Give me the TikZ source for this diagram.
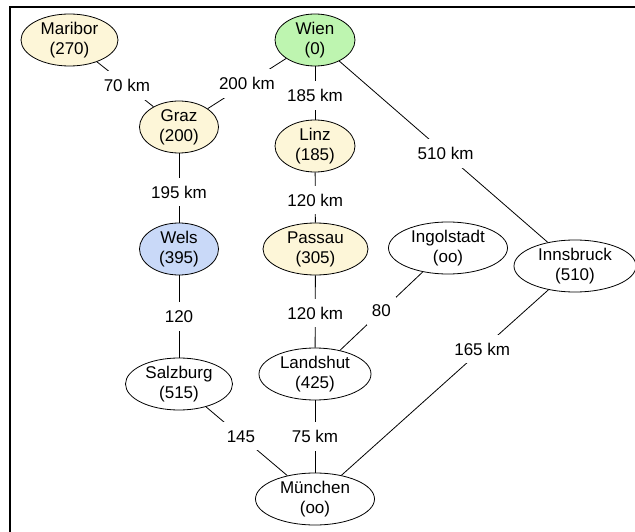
\documentclass[tikz,border=0pt]{standalone}
\usepackage{fontspec}
\setmainfont{Liberation Sans}
\usetikzlibrary{shapes.geometric}
\definecolor{yel}{HTML}{FDF6D8}
\definecolor{grn}{HTML}{BEF5B0}
\definecolor{blu}{HTML}{C9D9F8}
\tikzset{
  city/.style={ellipse, draw=black, line width=0.8pt, inner sep=0pt, minimum height=52pt, align=center,
    font=\fontsize{17}{20}\selectfont},
  lbl/.style={fill=white, inner xsep=5pt, inner ysep=8pt, font=\fontsize{17}{20}\selectfont},
  road/.style={draw=black, line width=0.8pt}
}
\begin{document}
\begin{tikzpicture}[x=1pt,y=-1pt]
\useasboundingbox (0,0) rectangle (635,532);
\draw[line width=2pt] (10,540) -- (10,7) -- (640,7);
\node[city, fill=yel, minimum width=97pt] (maribor) at (69.5,40) {Maribor\\(270)};
\node[city, fill=grn, minimum width=80pt] (wien) at (315,40) {Wien\\(0)};
\node[city, fill=yel, minimum width=79pt] (graz) at (179,127) {Graz\\(200)};
\node[city, fill=yel, minimum width=80pt] (linz) at (315,146) {Linz\\(185)};
\node[city, fill=blu, minimum width=79pt] (wels) at (179,249) {Wels\\(395)};
\node[city, fill=yel, minimum width=105pt] (passau) at (315.5,249) {Passau\\(305)};
\node[city, fill=white, minimum width=119pt] (ingolstadt) at (448,248) {Ingolstadt\\(oo)};
\node[city, fill=white, minimum width=122pt] (innsbruck) at (575,266) {Innsbruck\\(510)};
\node[city, fill=white, minimum width=107pt] (salzburg) at (179,384) {Salzburg\\(515)};
\node[city, fill=white, minimum width=112pt] (landshut) at (315,374) {Landshut\\(425)};
\node[city, fill=white, minimum width=119pt] (muenchen) at (315,499) {München\\(oo)};
\draw[road] (maribor) -- node[lbl, pos=0.53] {70 km} (graz);
\draw[road] (graz) -- node[lbl] {200 km} (wien);
\draw[road] (wien) -- node[lbl, pos=0.55] {185 km} (linz);
\draw[road] (wien) -- node[lbl, pos=0.51] {510 km} (innsbruck);
\draw[road] (graz) -- node[lbl, pos=0.56] {195 km} (wels);
\draw[road] (linz) -- node[lbl, pos=0.55] {120 km} (passau);
\draw[road] (wels) -- node[lbl] {120} (salzburg);
\draw[road] (passau) -- node[lbl, pos=0.52] {120 km} (landshut);
\draw[road] (ingolstadt) -- node[lbl] {80} (landshut);
\draw[road] (innsbruck) -- node[lbl, pos=0.32] {165 km} (muenchen);
\draw[road] (salzburg) -- node[lbl, pos=0.43] {145} (muenchen);
\draw[road] (landshut) -- node[lbl] {75 km} (muenchen);
\end{tikzpicture}
\end{document}
